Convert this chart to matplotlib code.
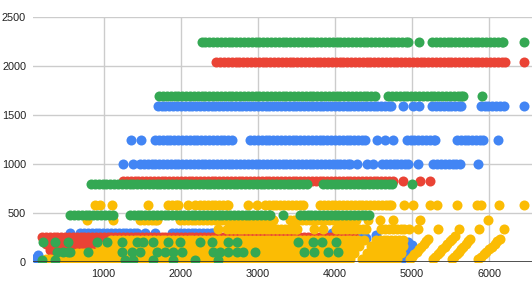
import matplotlib
matplotlib.use('Agg')
import matplotlib.pyplot as plt

BLUE = '#4285f4'
RED = '#ea4335'
YELLOW = '#fbbc04'
GREEN = '#34a853'

x_ticks = [1000, 2000, 3000, 4000, 5000, 6000]
y_ticks = [0, 500, 1000, 1500, 2000, 2500]

# ---- blue series ----
blue_1590 = [1700, 1750, 1800, 1850, 1900, 1950, 2000, 2050, 2100, 2150, 2200, 2250, 2300, 2350,
             2400, 2450, 2500, 2550, 2600, 2650, 2700, 2750, 2800, 2850, 2900, 2950, 3000, 3050,
             3100, 3150, 3200, 3250, 3300, 3350, 3400, 3450, 3500, 3550, 3600, 3650, 3700, 3750,
             3800, 3850, 3900, 3950, 4000, 4050, 4100, 4150, 4200, 4250, 4300, 4350, 4400, 4450,
             4500, 4550, 4600, 4650, 4700, 4720, 4880, 5010, 5090, 5260, 5310, 5360, 5410, 5460,
             5510, 5560, 5610, 5630, 5890, 5940, 5990, 6040, 6090, 6140, 6190, 6450]
blue_1250 = [1360, 1490, 1665, 1715, 1765, 1815, 1865, 1915, 1965, 2015, 2065, 2115, 2165, 2215,
             2265, 2315, 2365, 2415, 2465, 2515, 2565, 2615, 2665, 2900, 2950, 3000, 3050, 3100,
             3150, 3200, 3250, 3300, 3350, 3400, 3450, 3500, 3550, 3600, 3650, 3700, 3750, 3800,
             3850, 3900, 3950, 4000, 4050, 4100, 4150, 4200, 4250, 4300, 4350, 4390, 4545, 4650,
             4750, 4930, 4980, 5030, 5080, 5130, 5180, 5230, 5280, 5300, 5580, 5630, 5680, 5730,
             5780, 5830, 5880, 5920, 6110]
blue_1000 = [1250, 1380, 1470, 1520, 1570, 1620, 1670, 1720, 1770, 1820, 1870, 1920, 1970, 2020,
             2070, 2120, 2170, 2220, 2270, 2320, 2370, 2420, 2470, 2520, 2570, 2620, 2670, 2720,
             2770, 2820, 2870, 2920, 2970, 3020, 3070, 3120, 3170, 3220, 3270, 3320, 3370, 3420,
             3470, 3520, 3570, 3620, 3670, 3720, 3770, 3820, 3870, 3920, 3970, 4020, 4070, 4120,
             4170, 4195, 4285, 4415, 4495, 4610, 4660, 4710, 4760, 4810, 4860, 4910, 4945, 5075,
             5275, 5325, 5375, 5425, 5475, 5525, 5575, 5625, 5855]
blue_300 = [565, 695, 745, 795, 845, 895, 945, 995, 1045, 1095, 1145, 1195, 1245, 1295, 1345,
            1395, 1435, 1535, 1665, 1890, 1940, 1990, 2040, 2090, 2140, 2190, 2240, 2290, 2340,
            2390, 2420, 3960, 4010, 4060, 4110, 4160, 4210, 4260, 4310]
blue_low_x = [120, 150, 4400, 4530, 4870, 4900, 4930, 4960, 4990, 4950, 5000]
blue_low_y = [40, 70, 250, 280, 30, 55, 80, 105, 130, 200, 170]

# ---- red series ----
red_2040 = [2460, 2510, 2560, 2610, 2660, 2710, 2760, 2810, 2860, 2910, 2960, 3010, 3060, 3110,
            3160, 3210, 3260, 3310, 3360, 3410, 3460, 3510, 3560, 3610, 3660, 3710, 3760, 3810,
            3860, 3910, 3960, 4010, 4060, 4110, 4160, 4210, 4260, 4310, 4360, 4410, 4460, 4510,
            4560, 4610, 4660, 4710, 4760, 4810, 4860, 4910, 4960, 5010, 5060, 5110, 5160, 5210,
            5260, 5310, 5360, 5410, 5460, 5510, 5560, 5610, 5660, 5710, 5760, 5810, 5860, 5910,
            5960, 6010, 6060, 6110, 6160, 6205, 6450]
red_830 = [1250, 1300, 1350, 1400, 1450, 1500, 1550, 1600, 1650, 1700, 1750, 1800, 1850, 1900,
           1950, 2000, 2050, 2100, 2150, 2200, 2250, 2300, 2350, 2400, 2450, 2500, 2550, 2600,
           2650, 2700, 2750, 2800, 2850, 2900, 2950, 3000, 3050, 3100, 3150, 3200, 3250, 3300,
           3350, 3400, 3450, 3500, 3550, 3600, 3650, 3700, 3750, 3800, 3850, 3900, 3950, 4000,
           4050, 4100, 4150, 4200, 4250, 4300, 4350, 4400, 4450, 4500, 4550, 4600, 4650, 4700,
           4750, 4880, 5100, 5230]
red_260 = [200, 250, 300, 350, 400, 450, 500, 550, 600, 650, 700, 750, 800, 850, 900, 950, 1000,
           1050, 1100, 1150, 1200, 1250, 1300, 1350, 1400, 1450, 1500, 1550, 1600, 1650, 1700,
           1750, 1800, 1850, 1900, 1950, 2000, 2050, 2100, 2150, 2200, 2250, 2300, 2350, 2400,
           2450, 2500, 2550, 2600, 2650, 2700, 2750, 2800, 2850, 2900, 2950, 3000, 3050, 3100,
           3150, 3200, 3250, 3300, 3350, 3400, 3450, 3500, 3550, 3600, 3650, 3700, 3750, 3800,
           3850, 3900, 3950, 4000, 4050, 4100, 4150, 4200, 4250]
red_180 = [250, 300, 350, 400, 450, 500, 550, 600, 650, 700, 750, 800, 850, 900, 950, 1000, 1050,
           1100, 1150, 1200, 1250, 1300, 1350, 1400, 1450, 1500, 1550, 1600]
red_120 = [300, 350, 400, 450, 500, 550, 600, 650, 700, 750, 800, 850, 900, 950, 1000, 1050,
           1100, 1150, 1200, 1250, 1300]

# ---- yellow series ----
yellow_580 = [890, 950, 1110, 1575, 1835, 1885, 1935, 1965, 2095, 2185, 2250, 2300, 2350, 2400,
              2450, 2500, 2550, 2600, 2610, 2870, 2990, 3090, 3140, 3190, 3240, 3290, 3340, 3390,
              3440, 3490, 3540, 3585, 3805, 3855, 3905, 3955, 4005, 4055, 4105, 4155, 4205, 4255,
              4305, 4355, 4405, 4455, 4505, 4555, 4605, 4655, 4705, 4725, 4895, 5010, 5230, 5320,
              5580, 5845, 5900, 6130, 6450]
yellow_430 = [785, 1120, 1470, 1520, 1570, 1620, 1670, 1690, 1990, 2040, 2090, 2140, 2190, 2240,
              2290, 2340, 2390, 2440, 2490, 2540, 2590, 2640, 2690, 2740, 2790, 2840, 2890, 2940,
              2990, 3040, 3090, 3140, 3190, 3200, 3420, 3470, 3520, 3570, 3620, 3670, 3720, 3770,
              3820, 3870, 3920, 3970, 4020, 4070, 4120, 4170, 4220, 4270, 4430, 4585, 4750, 5100,
              5985]
yellow_340 = [2480, 2600, 2650, 2700, 2750, 2800, 2850, 2900, 2950, 3000, 3050, 3100, 3150, 3200,
              3250, 3300, 3350, 3400, 3450, 3500, 3510, 3730, 3845, 4010, 4060, 4110, 4160, 4210,
              4260, 4310, 4360, 4400, 4600, 4650, 4700, 4750, 4800, 4850, 4900, 4960, 5075, 5335,
              5610, 5870, 6190]
yellow_225 = [1100, 1150, 1200, 1250, 1300, 1350, 1400, 1450, 1500, 1550, 1600, 1650, 1700,
              1750, 1800, 1850, 1900, 1950, 2000, 2050, 2100, 2150, 2200, 2250, 2300, 2350, 2400,
              2450, 2500, 2550, 2600, 2650, 2700, 2750, 2800, 2850, 2900, 2950, 3000, 3050, 3100,
              3150, 3200, 3250, 3300, 3350, 3400, 3450, 3500, 3550, 3600, 3650, 3700, 3750, 3800,
              3850, 3900, 3950, 4000, 4050, 4100, 4150, 4200, 4250, 4300, 4370, 4530, 4580, 4630,
              4680, 4730, 4780, 4830, 4880]
yellow_160 = [950, 1000, 1050, 1100, 1150, 1200, 1250, 1300,
              1350, 1400, 1450, 1500, 1550, 1600, 1650, 1700, 1750, 1800, 1850, 1900, 1950, 2000,
              2050, 2100, 2150, 2200, 2250, 2300, 2350, 2400, 2450, 2500, 2550, 2600, 2650, 2700,
              2750, 2800, 2850, 2900, 2950, 3000, 3050, 3100, 3150, 3200, 3250, 3300, 3350, 3400,
              3450, 3500, 3550, 3600, 3650, 3700, 3750, 3800, 3850, 3900, 3950, 4000, 4050, 4100,
              4150, 4200, 4250, 4310, 4470, 4520, 4570, 4620, 4670, 4720, 4770, 4820, 4880]
yellow_95 = [650, 700, 750, 800, 850, 900, 950, 1000, 1050, 1100,
             1150, 1200, 1250, 1300, 1350, 1400, 1450, 1500, 1550, 1600, 1650, 1700, 1750, 1800,
             1850, 1900, 1950, 2000, 2050, 2100, 2150, 2200, 2250, 2300, 2350, 2400, 2450, 2500,
             2550, 2600, 2650, 2700, 2750, 2800, 2850, 2900, 2950, 3000, 3050, 3100, 3150, 3200,
             3250, 3300, 3350, 3400, 3450, 3500, 3550, 3600, 3650, 3700, 3750, 3800, 3850, 3900,
             3950, 4000, 4050, 4100, 4150, 4200, 4250, 4410, 4460, 4510, 4560, 4610, 4660, 4710,
             4760, 4810, 4860]
yellow_30 = [250, 300, 350, 400, 450, 500, 550, 600, 650, 700, 750, 800, 850, 900, 950, 1000,
             1050, 1100, 1150, 1200, 1250, 1300, 1350, 1400, 1450, 1500, 1550, 1600, 1650, 1700,
             1750, 1800, 1850, 1900, 1950, 2000, 2050, 2100, 2150, 2200, 2250, 2300, 2350, 2400,
             2450, 2500, 2550, 2600, 2650, 2700, 2750, 2800, 2850, 2900, 2950, 3000, 3050, 3100,
             3150, 3200, 3250, 3300, 3350, 3400, 3450, 3500, 3550, 3600, 3650, 3700, 3750, 3800,
             3850, 3900, 3950, 4000, 4050, 4100, 4150, 4190, 4350, 4400, 4450, 4500, 4550, 4600,
             4650, 4700, 4750, 4800]
# diagonal streaks on the right
yellow_diag_x = [4973, 5002, 5031, 5060, 5090, 5119, 5148, 5177, 5206,
                 5271, 5301, 5332, 5363, 5394, 5424, 5455, 5486, 5517, 5550,
                 5517, 5546, 5576, 5605, 5634, 5663, 5693, 5722, 5751,
                 5855, 5890, 5926, 5961, 5997, 6033, 6069, 6104, 6140]
yellow_diag_y = [30, 55, 80, 105, 130, 158, 185, 210, 235,
                 30, 55, 80, 105, 130, 158, 185, 210, 235, 265,
                 30, 55, 80, 105, 130, 158, 185, 210, 235,
                 30, 55, 80, 105, 130, 158, 185, 210, 235]

# ---- green series ----
green_2240 = [2270, 2320, 2370, 2420, 2470, 2520, 2570, 2620, 2670, 2720, 2770, 2820, 2870, 2920,
              2970, 3020, 3070, 3120, 3170, 3220, 3270, 3320, 3370, 3420, 3470, 3520, 3570, 3620,
              3670, 3720, 3770, 3820, 3870, 3920, 3970, 4020, 4070, 4120, 4170, 4220, 4270, 4320,
              4370, 4420, 4470, 4520, 4570, 4620, 4670, 4720, 4770, 4820, 4870, 4920, 4950, 5090,
              5260, 5310, 5360, 5410, 5460, 5510, 5560, 5610, 5660, 5710, 5760, 5810, 5860, 5910,
              5960, 6010, 6060, 6110, 6160, 6180, 6450]
green_1690 = [1720, 1770, 1820, 1870, 1920, 1970, 2020, 2070, 2120, 2170, 2220, 2270, 2320, 2370,
              2420, 2470, 2520, 2570, 2620, 2670, 2720, 2770, 2820, 2870, 2920, 2970, 3020, 3070,
              3120, 3170, 3220, 3270, 3320, 3370, 3420, 3470, 3520, 3570, 3620, 3670, 3720, 3770,
              3820, 3870, 3920, 3970, 4020, 4070, 4120, 4170, 4220, 4270, 4320, 4370, 4420, 4470,
              4520, 4690, 4740, 4790, 4840, 4890, 4940, 4990, 5040, 5090, 5140, 5190, 5240, 5290,
              5340, 5390, 5440, 5490, 5540, 5590, 5640, 5660, 5905]
green_800 = [835, 885, 935, 985, 1035, 1085, 1135, 1185, 1235, 1285, 1335, 1385, 1435, 1485,
             1535, 1585, 1635, 1685, 1735, 1785, 1835, 1885, 1935, 1985, 2035, 2085, 2135, 2185,
             2235, 2285, 2335, 2385, 2435, 2485, 2535, 2585, 2635, 2685, 2735, 2785, 2835, 2885,
             2935, 2985, 3035, 3085, 3135, 3185, 3235, 3285, 3335, 3385, 3435, 3485, 3535, 3585,
             3635, 3845, 3895, 3945, 3995, 4045, 4095, 4145, 4195, 4245, 4295, 4345, 4395, 4445,
             4495, 4545, 4595, 4645, 4695, 4745, 5000]
green_480 = [565, 615, 665, 715, 765, 815, 865, 915, 965, 1015, 1065, 1120, 1340, 1390, 1440,
             1490, 1540, 1590, 1640, 1690, 1740, 1790, 1840, 1890, 1940, 1990, 2040, 2090, 2140,
             2190, 2240, 2290, 2340, 2390, 2440, 2490, 2540, 2590, 2640, 2690, 2740, 2790, 2840,
             2890, 2940, 2990, 3040, 3090, 3140, 3160, 3325, 3545, 3595, 3645, 3695, 3745, 3795,
             3845, 3895, 3945, 3995, 4045, 4095, 4145, 4195, 4245, 4295, 4345, 4395, 4440]
green_200 = [215, 370, 540, 915, 1045, 1240, 1430, 1510, 1640, 1835, 1990, 2250, 2405, 2610, 2730,
             3520, 3715, 3830, 4015]
green_100 = [395, 470, 540, 565, 795, 1240, 1365, 1470, 1690, 1795, 1900, 2015, 2420, 2510, 2610,
             2730, 2805, 2960, 3600, 3730, 3910, 4040]
green_20 = [200, 370, 1275, 1380, 1640, 1900, 2185, 2485]


def row(xs, yv):
    return xs, [yv] * len(xs)


fig = plt.figure(figsize=(5.32, 2.83), dpi=100)
ax = fig.add_axes([33 / 532, 21 / 283, 499 / 532, 245 / 283])

S = 52
groups = [
    (BLUE, [row(blue_1590, 1590), row(blue_1250, 1250), row(blue_1000, 1000),
            row(blue_300, 300), (blue_low_x, blue_low_y)]),
    (RED, [row(red_2040, 2040), row(red_830, 830), row(red_260, 260), row(red_180, 180),
           row(red_120, 120)]),
    (YELLOW, [row(yellow_580, 580), row(yellow_430, 430), row(yellow_340, 340),
              row(yellow_225, 225), row(yellow_160, 160), row(yellow_95, 95), row(yellow_30, 30),
              (yellow_diag_x, yellow_diag_y)]),
    (GREEN, [row(green_2240, 2240), row(green_1690, 1690), row(green_800, 800),
             row(green_480, 480), row(green_200, 200), row(green_100, 100), row(green_20, 20)]),
]
for z, (col, parts) in enumerate(groups):
    xs, ys = [], []
    for px, py in parts:
        xs += list(px)
        ys += list(py)
    ax.scatter(xs, ys, s=S, c=col, linewidths=0, zorder=3 + z)

ax.set_xlim(83, 6555)
ax.set_ylim(0, 2500)
ax.set_xticks(x_ticks)
ax.set_yticks(y_ticks)
ax.grid(True, color='#cccccc', linewidth=1)
ax.set_axisbelow(True)
for s in ['top', 'right', 'left', 'bottom']:
    ax.spines[s].set_visible(False)
ax.axhline(0, color='#333333', linewidth=1.2, zorder=10)
ax.tick_params(length=0, labelsize=7.8, labelcolor='#222222', pad=5)
for lab in ax.get_xticklabels() + ax.get_yticklabels():
    lab.set_fontfamily('Liberation Sans')

fig.savefig('out.png', dpi=100)
